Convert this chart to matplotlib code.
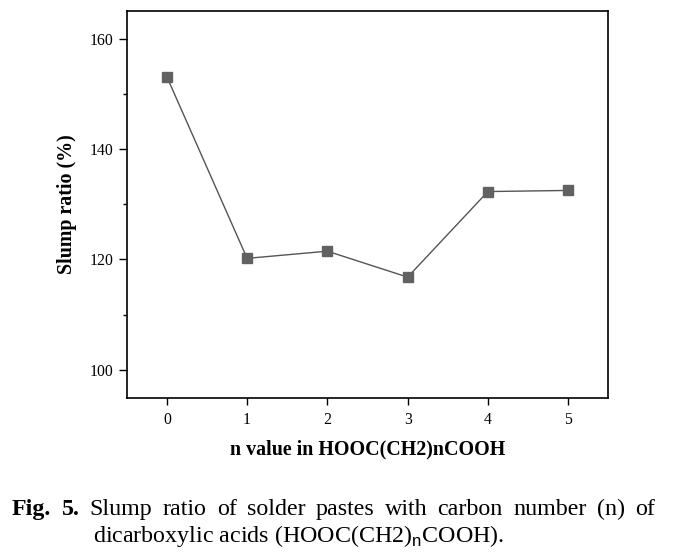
import matplotlib
matplotlib.use("Agg")
import matplotlib.pyplot as plt
from matplotlib.ticker import MultipleLocator

plt.rcParams['font.family'] = ['Liberation Serif', 'DejaVu Serif']
plt.rcParams['mathtext.fontset'] = 'custom'
plt.rcParams['mathtext.rm'] = 'Liberation Sans'

# data
n_values = [0, 1, 2, 3, 4, 5]
slump_ratio = [153.1, 120.2, 121.5, 116.8, 132.3, 132.5]

caption_words = ["Fig.", "5.", "Slump", "ratio", "of", "solder", "pastes",
                 "with", "carbon", "number", "(n)", "of"]
caption_line2 = r"dicarboxylic acids (HOOC(CH2)$_{\mathrm{n}}$COOH)."

W, H = 675, 555
fig = plt.figure(figsize=(6.75, 5.55), dpi=100)
ax = fig.add_axes([126.7 / W, 1 - 397.5 / H, 481.6 / W, 386.5 / H])

ax.plot(n_values, slump_ratio, color='#555555', linewidth=1.0,
        marker='s', markersize=6.5, markerfacecolor='#616161',
        markeredgecolor='#616161')

ax.set_xlim(-0.5, 5.5)
ax.set_ylim(95, 165)
ax.set_xticks(n_values)
ax.yaxis.set_major_locator(MultipleLocator(20))
ax.yaxis.set_minor_locator(MultipleLocator(10))
ax.tick_params(axis='both', which='major', direction='out', width=1.0,
               labelsize=11.3)
ax.tick_params(axis='x', which='major', length=5.2, pad=5)
ax.tick_params(axis='y', which='major', length=6, pad=3.5)
ax.tick_params(axis='y', which='minor', direction='out', length=3, width=1.0)
for s in ax.spines.values():
    s.set_linewidth(1.2)

ax.set_xlabel("n value in HOOC(CH2)nCOOH", fontsize=14.4, fontweight='bold')
ax.set_ylabel("Slump ratio (%)", fontsize=14.4, fontweight='bold')
ax.xaxis.set_label_coords(0.5, -0.108)
ax.yaxis.set_label_coords(-0.103, 0.5)

# justified first caption line
renderer = fig.canvas.get_renderer()
x0, x1 = 12, 655
y1 = 1 - 515 / H
texts = []
widths = []
for i, w in enumerate(caption_words):
    t = fig.text(0, y1, w, fontsize=17.3, va='baseline',
                 fontweight='bold' if i < 2 else 'normal')
    texts.append(t)
    widths.append(t.get_window_extent(renderer).width)
gap = (x1 - x0 - sum(widths)) / (len(caption_words) - 1)
x = x0
for t, wd in zip(texts, widths):
    t.set_x(x / W)
    x += wd + gap

fig.text(93 / W, 1 - 542 / H, caption_line2, fontsize=17.3, va='baseline')

fig.savefig("out.png", dpi=100)
